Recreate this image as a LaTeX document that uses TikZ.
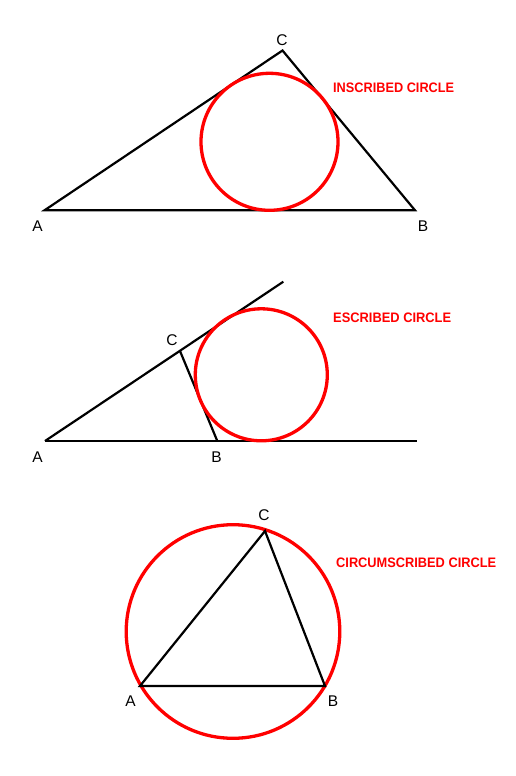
\documentclass[tikz,border=0pt]{standalone}
\usepackage{fontspec}
\setmainfont{Liberation Sans}
\usepackage{graphicx}
\definecolor{cred}{RGB}{255,0,0}
\newcommand{\fitlabel}[2]{\resizebox{#1pt}{9.6pt}{#2}}
\begin{document}
\begin{tikzpicture}[x=1pt,y=-1pt,
  side/.style={draw=black,line width=2.2pt,line join=miter},
  rcircle/.style={draw=cred,line width=3.3pt},
  vlabel/.style={inner sep=0pt,font=\fontsize{15.5}{15.5}\selectfont},
  clabel/.style={inner sep=0pt,anchor=west,text=cred,font=\bfseries}]
\useasboundingbox (0,0) rectangle (515,776);
% ---------- inscribed ----------
\coordinate (A1) at (44.5,210.3);
\coordinate (B1) at (415,210.3);
\coordinate (C1) at (282.5,50.5);
\coordinate (O1) at (269.5,141.8);
\draw[side] (A1) -- (B1) -- (C1) -- cycle;
\draw[rcircle] (O1) circle (68.5);
\node[vlabel] (lA1) at (37.5,226.5) {A};
\node[vlabel] (lB1) at (423,226.5) {B};
\node[vlabel] (lC1) at (282,40.5) {C};
\node[clabel] (t1) at (333,88) {\fitlabel{121}{INSCRIBED CIRCLE}};
% ---------- escribed ----------
\coordinate (A2) at (45,441);
\coordinate (B2) at (217.3,441);
\coordinate (C2) at (180,351);
\coordinate (E2) at (416.7,441);
\coordinate (F2) at (283.3,281.7);
\draw[side] (A2) -- (E2);
\draw[side] (A2) -- (F2);
\draw[side] (C2) -- (B2);
\draw[rcircle] (261.3,374.8) coordinate (O2) circle (66);
\node[vlabel] (lA2) at (37.5,457.5) {A};
\node[vlabel] (lB2) at (216.5,457.5) {B};
\node[vlabel] (lC2) at (172,340.5) {C};
\node[clabel] (t2) at (333,318) {\fitlabel{118}{ESCRIBED CIRCLE}};
% ---------- circumscribed ----------
\coordinate (A3) at (140,686);
\coordinate (B3) at (325,686);
\coordinate (C3) at (265,531);
\coordinate (O3) at (233,631.5);
\draw[rcircle] (O3) circle (106.8);
\draw[side] (A3) -- (B3) -- (C3) -- cycle;
\node[vlabel] (lA3) at (130.5,701.5) {A};
\node[vlabel] (lB3) at (333,701.5) {B};
\node[vlabel] (lC3) at (264,515.5) {C};
\node[clabel] (t3) at (336,563) {\fitlabel{160}{CIRCUMSCRIBED CIRCLE}};
\end{tikzpicture}
\end{document}
